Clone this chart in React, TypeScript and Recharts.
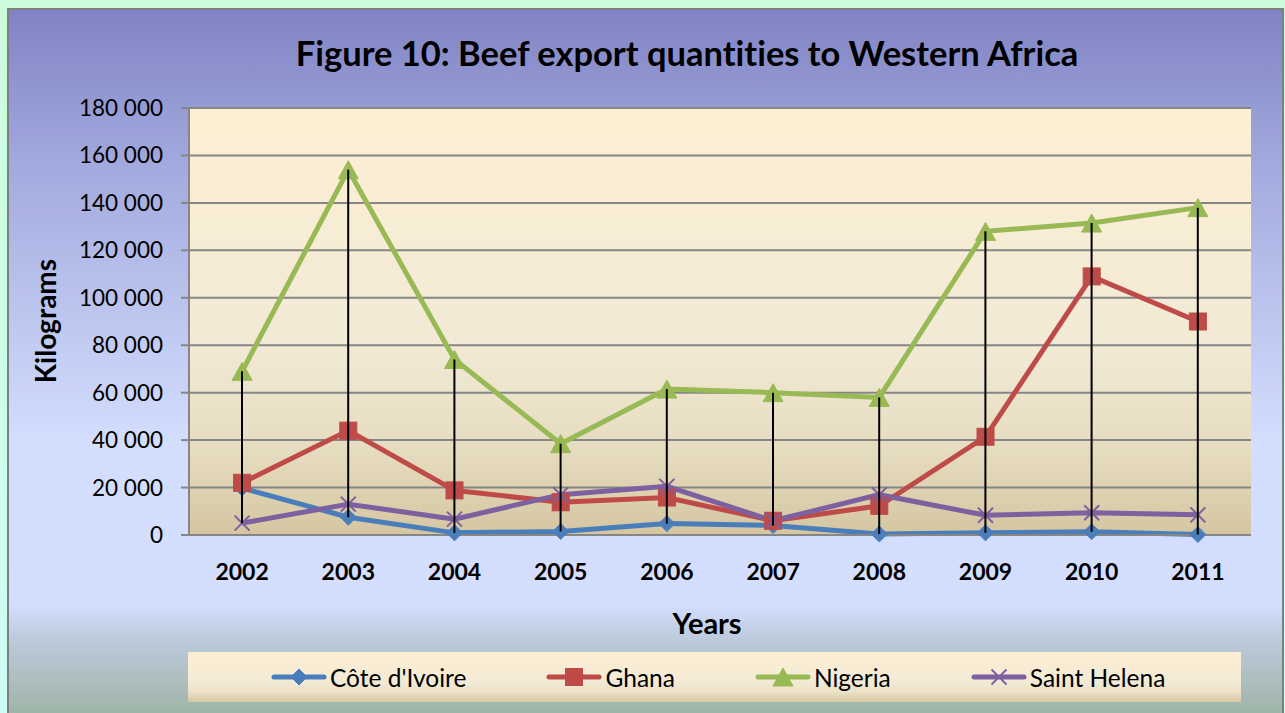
import React from 'react';
import { ComposedChart, Line, Bar, XAxis, YAxis, CartesianGrid } from 'recharts';

const years = ['2002', '2003', '2004', '2005', '2006', '2007', '2008', '2009', '2010', '2011'];
const coteDIvoire = [19800, 7500, 900, 1500, 4800, 4000, 400, 900, 1400, 200];
const ghana = [22000, 44000, 18800, 13800, 15800, 6000, 12300, 41400, 109000, 90000];
const nigeria = [69000, 154000, 74000, 38500, 61500, 60000, 58000, 128000, 131500, 138000];
const saintHelena = [5000, 13000, 6700, 17000, 20500, 6000, 17000, 8300, 9400, 8500];
const yTicks = [0, 20000, 40000, 60000, 80000, 100000, 120000, 140000, 160000, 180000];

const series = [
  { key: 'cote', name: "Côte d'Ivoire", color: '#4a7ebb', marker: 'diamond', values: coteDIvoire },
  { key: 'ghana', name: 'Ghana', color: '#be4b48', marker: 'square', values: ghana },
  { key: 'nigeria', name: 'Nigeria', color: '#98b954', marker: 'triangle', values: nigeria },
  { key: 'sh', name: 'Saint Helena', color: '#7d60a0', marker: 'x', values: saintHelena },
];

const data = years.map((y, i) => {
  const row: any = { year: y };
  series.forEach((s) => { row[s.key] = s.values[i]; });
  const vals = series.map((s) => s.values[i]);
  row.range = [Math.min(...vals), Math.max(...vals)];
  return row;
});

const FONT = 'Lato, "Open Sans", sans-serif';

function Marker({ type, cx, cy, color, scale = 1 }: any) {
  const s = scale;
  if (type === 'diamond') {
    const r = 8 * s;
    return <polygon points={`${cx},${cy - r} ${cx + r},${cy} ${cx},${cy + r} ${cx - r},${cy}`} fill={color} stroke={color} strokeWidth={1} />;
  }
  if (type === 'square') {
    const r = 8.5 * s;
    return <rect x={cx - r} y={cy - r} width={2 * r} height={2 * r} fill={color} stroke={color} strokeWidth={1} />;
  }
  if (type === 'triangle') {
    const w = 10 * s;
    const h = 9 * s;
    return <polygon points={`${cx},${cy - h} ${cx + w},${cy + h} ${cx - w},${cy + h}`} fill={color} stroke={color} strokeWidth={1} />;
  }
  const r = 7.5 * s;
  return (
    <g stroke={color} strokeWidth={2}>
      <line x1={cx - r} y1={cy - r} x2={cx + r} y2={cy + r} />
      <line x1={cx - r} y1={cy + r} x2={cx + r} y2={cy - r} />
    </g>
  );
}

const makeDot = (type: string, color: string) => (p: any) => (
  <g key={`${type}-${p.index}`}>
    <Marker type={type} cx={p.cx} cy={p.cy} color={color} />
  </g>
);

const HighLow = (p: any) => {
  const cx = p.x + p.width / 2;
  return <line x1={cx} y1={p.y} x2={cx} y2={p.y + p.height} stroke="#000" strokeWidth={2} />;
};

const fmt = (v: number) => String(v).replace(/\B(?=(\d{3})+(?!\d))/g, ' ');

export default function App() {
  return (
    <div style={{ position: 'absolute', left: 0, top: 0, width: 1285, height: 713, overflow: 'hidden', background: 'linear-gradient(to bottom, #ccfcda, #cdfff6)', fontFamily: FONT, fontVariantLigatures: 'none' }}>
      <div style={{ position: 'absolute', left: 7, top: 8, width: 1277, height: 720, boxSizing: 'border-box', border: '2px solid #7f7f7f', background: 'linear-gradient(to bottom, #8084c4 0%, #a3aade 22%, #d3ddfd 60%, #d4defe 83%, #bccadb 88%, #9ab19f 100%)' }} />
      <div style={{ position: 'absolute', left: 0, width: 1374, top: 31, textAlign: 'center', fontSize: 34.5, fontWeight: 700, color: '#000', lineHeight: '44px' }}>
        Figure 10: Beef export quantities to Western Africa
      </div>
      <div style={{ position: 'absolute', left: 45, top: 321, transform: 'translate(-50%, -50%) rotate(-90deg)', fontSize: 28, fontWeight: 700, whiteSpace: 'nowrap', lineHeight: '30px' }}>
        Kilograms
      </div>
      <div style={{ position: 'absolute', left: 707, top: 623, transform: 'translate(-50%, -50%)', fontSize: 29, fontWeight: 700, lineHeight: '32px' }}>
        Years
      </div>
      <div style={{ position: 'absolute', left: 0, top: 0 }}>
        <ComposedChart width={1285} height={713} data={data} margin={{ top: 108, right: 34, bottom: 0, left: 0 }}>
          <defs>
            <linearGradient id="plotBg" x1="0" y1="0" x2="0" y2="1">
              <stop offset="0%" stopColor="#fdefd3" />
              <stop offset="55%" stopColor="#f2ead6" />
              <stop offset="80%" stopColor="#e6dcc0" />
              <stop offset="100%" stopColor="#d5c6a1" />
            </linearGradient>
          </defs>
          <CartesianGrid vertical={false} stroke="#868686" strokeWidth={2} fill="url(#plotBg)" fillOpacity={1} />
          <XAxis dataKey="year" height={178} tickLine={false} axisLine={{ stroke: '#868686', strokeWidth: 2 }} tickMargin={23} tick={{ fill: '#000', fontSize: 23, fontWeight: 700, fontFamily: FONT }} interval={0} />
          <YAxis width={189} domain={[0, 180000]} ticks={yTicks} tickFormatter={fmt} tickSize={8} tickMargin={18} tickLine={{ stroke: '#868686', strokeWidth: 2 }} axisLine={{ stroke: '#868686', strokeWidth: 2 }} tick={{ fill: '#000', fontSize: 22.5, fontFamily: FONT }} interval={0} />
          {series.map((s) => (
            <Line key={s.key} dataKey={s.key} name={s.name} type="linear" stroke={s.color} strokeWidth={5} dot={makeDot(s.marker, s.color)} activeDot={false} isAnimationActive={false} />
          ))}
          <Bar dataKey="range" barSize={2} shape={HighLow} isAnimationActive={false} zIndex={1000} />
        </ComposedChart>
      </div>
      <div style={{ position: 'absolute', left: 188, top: 652, width: 1053, height: 50, background: 'linear-gradient(to bottom, #fdeed2 0%, #f3ead6 60%, #ebe1c6 80%, #d6c8a3 100%)', display: 'flex', alignItems: 'center', paddingLeft: 83, boxSizing: 'border-box', gap: 80 }}>
        {series.map((s) => (
          <div key={s.key} style={{ display: 'flex', alignItems: 'center' }}>
            <svg width={56} height={22}>
              <line x1={3} y1={11} x2={53} y2={11} stroke={s.color} strokeWidth={5} strokeLinecap="round" />
              <Marker type={s.marker} cx={28} cy={11} color={s.color} scale={1} />
            </svg>
            <span style={{ fontSize: 24.5, marginLeft: 3, color: '#000', whiteSpace: 'nowrap' }}>{s.name}</span>
          </div>
        ))}
      </div>
    </div>
  );
}
